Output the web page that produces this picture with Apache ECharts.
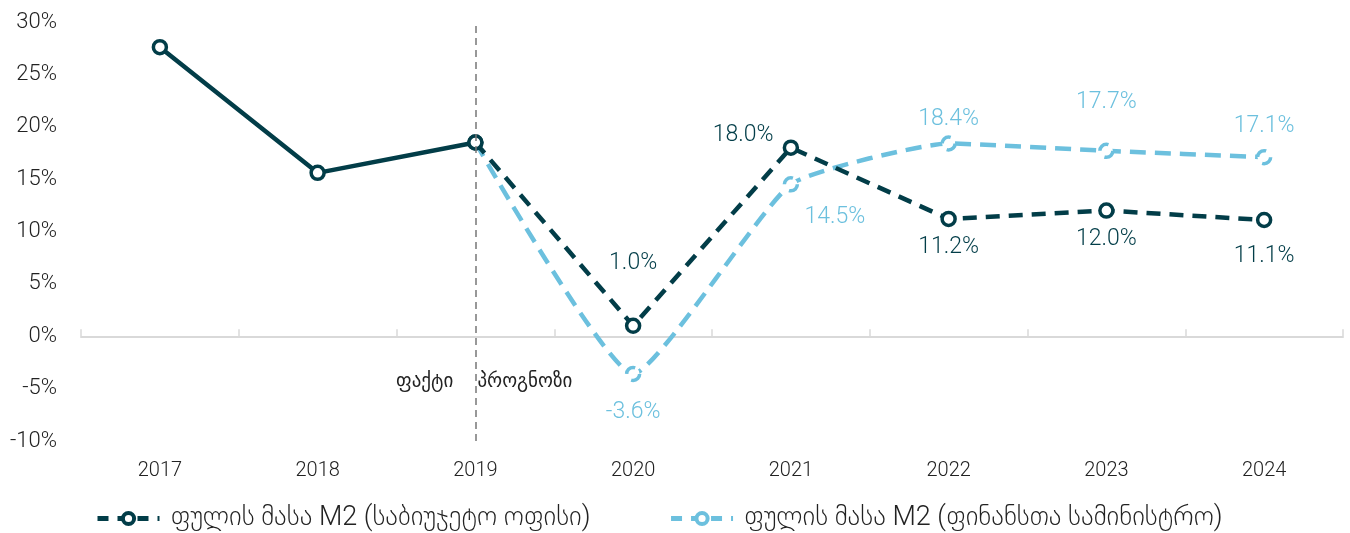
<!DOCTYPE html>
<html><head><meta charset="utf-8">
<script src="https://cdn.jsdelivr.net/npm/echarts@6/dist/echarts.min.js"></script>
<style>html,body{margin:0;padding:0;background:#fff}#c{width:1350px;height:533px}</style>
</head><body><div id="c"></div>
<script>
const years = ['2017','2018','2019','2020','2021','2022','2023','2024'];
const factM2 = [27.6, 15.6, 18.5, null, null, null, null, null];
const budgetOffice = [null, null, 18.5, 1.0, 18.0, 11.2, 12.0, 11.1];
const ministry = [null, null, 18.5, -3.6, 14.5, 18.4, 17.7, 17.1];
const yTicks = {min: -10, max: 30, interval: 5};
const nameBudget = 'ფულის მასა M2 (საბიუჯეტო ოფისი)';
const nameMinistry = 'ფულის მასა M2 (ფინანსთა სამინისტრო)';
const factText = 'ფაქტი', forecastText = 'პროგნოზი';

const DARK = '#023d48', LIGHT = '#6cc0de';
const FONT = 'Roboto, "DejaVu Sans", sans-serif';

// label placement per point (style only)
const darkLabelPos = [null, null, null, ['top', [0, -38]], ['left', [-4, -12]], ['bottom', [0, 4]], ['bottom', [0, 4]], ['bottom', [0, 12]]];
const lightLabelPos = [null, null, null, ['bottom', [0, 14]], ['bottom', [44, 8]], ['top', [0, 0]], ['top', [0, -24]], ['top', [0, -6]]];

function mk(values, pos, skipFirst) {
  return values.map((v, i) => {
    if (v === null) return null;
    const d = {value: v};
    if (skipFirst && i === 2) { d.symbol = 'none'; }
    if (pos[i]) {
      d.label = {show: true, position: pos[i][0], offset: pos[i][1]};
    }
    return d;
  });
}

const chart = echarts.init(document.getElementById('c'));
chart.setOption({
  animation: false,
  textStyle: {fontFamily: FONT},
  grid: {left: 81, right: 7, top: 22, bottom: 92},
  legend: {
    bottom: -4, left: 90, itemWidth: 62, itemHeight: 14, itemGap: 78,
    data: [nameBudget, nameMinistry],
    lineStyle: {width: 5, type: [11, 9]},
    itemStyle: {borderWidth: 4},
    textStyle: {fontSize: 27, color: '#222', fontWeight: 300, fontFamily: FONT, padding: [0, 0, 0, 6]}
  },
  xAxis: [
    {type: 'category', data: years, position: 'bottom', axisLine: {show: false, onZero: false},
     axisTick: {show: false}, axisLabel: {fontSize: 20, color: '#222', margin: 20, fontWeight: 300}},
    {type: 'category', data: years, position: 'top',
     axisLine: {show: true, onZero: true, lineStyle: {color: '#d9d9d9', width: 2}},
     axisTick: {show: true, inside: false, length: 7, lineStyle: {color: '#d9d9d9', width: 1.5}},
     axisLabel: {show: false}}
  ],
  yAxis: {type: 'value', min: yTicks.min, max: yTicks.max, interval: yTicks.interval,
    splitLine: {show: false}, axisLine: {show: false}, axisTick: {show: false},
    axisLabel: {formatter: '{value}%', fontSize: 22, color: '#222', margin: 24, fontWeight: 300}},
  series: [
    {
      name: nameMinistry, type: 'line', data: mk(ministry, lightLabelPos, true),
      z: 2, symbol: 'circle', symbolSize: 13, smooth: 0.15,
      lineStyle: {color: LIGHT, width: 4.5, type: [16, 9]},
      itemStyle: {color: '#fff', borderColor: LIGHT, borderWidth: 3.5, borderType: [12, 8]},
      label: {show: false, color: LIGHT, fontSize: 23, fontWeight: 300, formatter: p => p.value.toFixed(1) + '%'},
      markLine: {
        silent: true, symbol: 'none',
        lineStyle: {color: '#777', type: [7, 5], width: 1.5},
        label: {show: false},
        data: [{xAxis: '2019'}]
      },
      markPoint: {
        symbol: 'circle', symbolSize: 0,
        data: [
          {coord: ['2019', -4.4], label: {show: true, formatter: factText, position: 'left', distance: 22, color: '#222', fontSize: 19}},
          {coord: ['2019', -4.4], label: {show: true, formatter: forecastText, position: 'right', distance: 2, color: '#222', fontSize: 19}}
        ]
      }
    },
    {
      name: 'fact', type: 'line', data: factM2, z: 3,
      symbol: 'circle', symbolSize: 13,
      lineStyle: {color: DARK, width: 4.5},
      itemStyle: {color: '#fff', borderColor: DARK, borderWidth: 3.5}
    },
    {
      name: nameBudget, type: 'line', data: mk(budgetOffice, darkLabelPos, false), z: 4,
      symbol: 'circle', symbolSize: 13,
      lineStyle: {color: DARK, width: 4.5, type: [14, 9]},
      itemStyle: {color: '#fff', borderColor: DARK, borderWidth: 3.5},
      label: {show: false, color: DARK, fontSize: 23, fontWeight: 300, formatter: p => p.value.toFixed(1) + '%'}
    }
  ]
});
</script></body></html>
